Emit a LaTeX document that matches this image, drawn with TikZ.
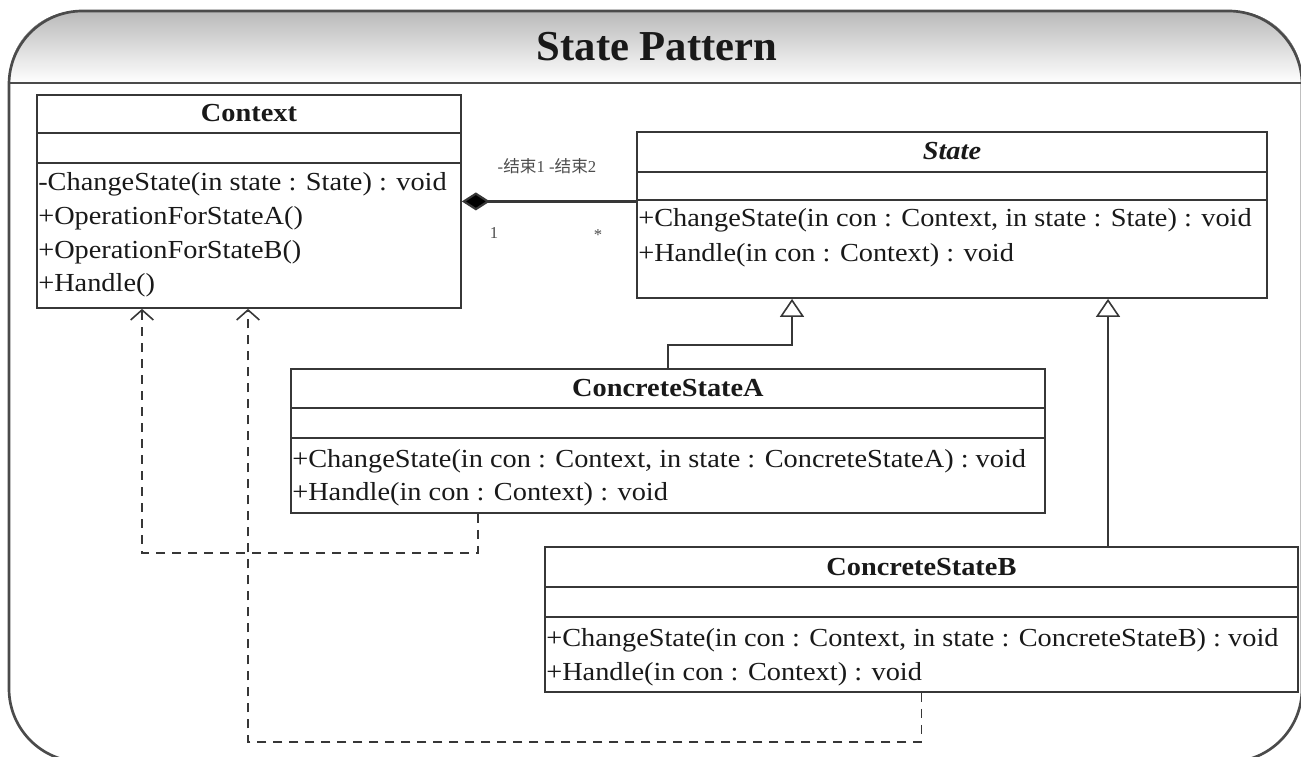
\documentclass[tikz,border=0pt]{standalone}
\usepackage{fontspec}
\setmainfont{Liberation Serif}
\newfontfamily\umlfont{Liberation Serif}[FakeStretch=1.09]
\newfontfamily\cjk{Noto Sans CJK SC}
\usetikzlibrary{arrows.meta,calc}
\definecolor{linegray}{RGB}{55,55,55}
\definecolor{framegray}{RGB}{75,75,75}
\definecolor{bandgray}{RGB}{185,185,185}
\definecolor{textgray}{RGB}{25,25,25}

\begin{document}
\begin{tikzpicture}[x=0.75pt,y=0.75pt,yscale=-1,xscale=1,
    classbox/.style={draw=linegray, line width=1.4pt, fill=white, inner sep=0pt, anchor=north west},
    compline/.style={draw=linegray, line width=1.4pt},
    classname/.style={anchor=base, inner sep=0.75pt, text=textgray, font=\umlfont\fontsize{19.5}{23}\selectfont\bfseries},
    member/.style={anchor=base west, inner sep=0.75pt, text=textgray, font=\umlfont\fontsize{19.5}{23}\selectfont},
    endlabel/.style={anchor=base, inner sep=0.75pt, text=black!70, font=\fontsize{12.5}{14}\selectfont},
    compose/.style={draw=linegray, line width=1.6pt, {Diamond[length=21pt,width=13.5pt,fill=black]}-},
    inherit/.style={draw=linegray, line width=1.4pt, -{Triangle[length=13.5pt,width=18pt,fill=white,line width=1.2pt]}},
    depend/.style={draw=linegray, line width=1.4pt, dash pattern=on 7pt off 5pt, -{Straight Barb[length=7.5pt,width=17pt,line width=1.2pt]}}]
        \useasboundingbox (0,0) rectangle (1301,756);

        % outer frame with shaded title band
        \fill[top color=bandgray, bottom color=white] (9,83) [rounded corners=52pt] -- (9,11) -- (1302,11) [sharp corners] -- (1302,83) -- cycle ;
        \draw[framegray, line width=2pt, rounded corners=55pt] (9,11) rectangle (1302,762) ;
        \draw[framegray, line width=2pt] (9,83) -- (1302,83) ;
        \node[anchor=base, inner sep=0pt, text=textgray, font=\fontsize{32}{36}\selectfont\bfseries] (title) at (657,61) {State Pattern};

        % class boxes
        \node[classbox, minimum width=318pt, minimum height=159.75pt] (ctx) at (36,94) {};
        \node[classbox, minimum width=472.5pt, minimum height=124.5pt] (st) at (636,131) {};
        \node[classbox, minimum width=565.5pt, minimum height=108pt] (ca) at (290,368) {};
        \node[classbox, minimum width=564.75pt, minimum height=108.75pt] (cb) at (544,546) {};

        % compartments
        \draw[compline] ($(ctx.north west)+(0,39)$) -- ($(ctx.north east)+(0,39)$) ;
        \draw[compline] ($(ctx.north west)+(0,69)$) -- ($(ctx.north east)+(0,69)$) ;
        \draw[compline] ($(st.north west)+(0,41)$) -- ($(st.north east)+(0,41)$) ;
        \draw[compline] ($(st.north west)+(0,69)$) -- ($(st.north east)+(0,69)$) ;
        \draw[compline] ($(ca.north west)+(0,40)$) -- ($(ca.north east)+(0,40)$) ;
        \draw[compline] ($(ca.north west)+(0,70)$) -- ($(ca.north east)+(0,70)$) ;
        \draw[compline] ($(cb.north west)+(0,41)$) -- ($(cb.north east)+(0,41)$) ;
        \draw[compline] ($(cb.north west)+(0,71)$) -- ($(cb.north east)+(0,71)$) ;

        \node[classname] (ctxname) at ($(ctx.north)+(0,28)$) {Context};
        \node[member] (ctxm1) at ($(ctx.north west)+(1,96)$) {-ChangeState(in state : State) : void};
        \node[member] (ctxm2) at ($(ctx.north west)+(1,130)$) {+OperationForStateA()};
        \node[member] (ctxm3) at ($(ctx.north west)+(1,164)$) {+OperationForStateB()};
        \node[member] (ctxm4) at ($(ctx.north west)+(1,197)$) {+Handle()};

        \node[classname] (stname) at ($(st.north)+(0,29)$) {\itshape State};
        \node[member] (stm1) at ($(st.north west)+(1,95)$) {+ChangeState(in con : Context, in state : State) : void};
        \node[member] (stm2) at ($(st.north west)+(1,130)$) {+Handle(in con : Context) : void};

        \node[classname] (caname) at ($(ca.north)+(0,28)$) {ConcreteStateA};
        \node[member] (cam1) at ($(ca.north west)+(1,99)$) {+ChangeState(in con : Context, in state : ConcreteStateA) : void};
        \node[member] (cam2) at ($(ca.north west)+(1,132)$) {+Handle(in con : Context) : void};

        \node[classname] (cbname) at ($(cb.north)+(0,29)$) {ConcreteStateB};
        \node[member] (cbm1) at ($(cb.north west)+(1,100)$) {+ChangeState(in con : Context, in state : ConcreteStateB) : void};
        \node[member] (cbm2) at ($(cb.north west)+(1,134)$) {+Handle(in con : Context) : void};

        % composition Context -- State
        \draw[compose] (ctx.east) -- (ctx.east -| st.west) ;
        \node[endlabel] (role) at (547,172) {-{\cjk 结束}1 -{\cjk 结束}2};
        \node[endlabel] (mult1) at (494,238) {1};
        \node[endlabel] (mult2) at (598,240) {*};

        % generalization
        \coordinate (stA) at ($(st.south west)+(156,0)$);
        \coordinate (stB) at ($(st.south west)+(472,0)$);
        \draw[inherit] (ca.north) -- ++(0,-23) -| (stA) ;
        \draw[inherit] (stB |- cb.north) -- (stB) ;

        % dependencies on Context
        \coordinate (caout) at ($(ca.south west)+(188,0)$);
        \coordinate (ctxinA) at ($(ctx.south west)+(106,0)$);
        \coordinate (ctxinB) at ($(ctx.south west)+(212,0)$);
        \draw[depend] (caout) -- ++(0,39) -| (ctxinA) ;
        \draw[depend] (cb.south) -- ++(0,49) -| (ctxinB) ;
    \end{tikzpicture}
\end{document}
